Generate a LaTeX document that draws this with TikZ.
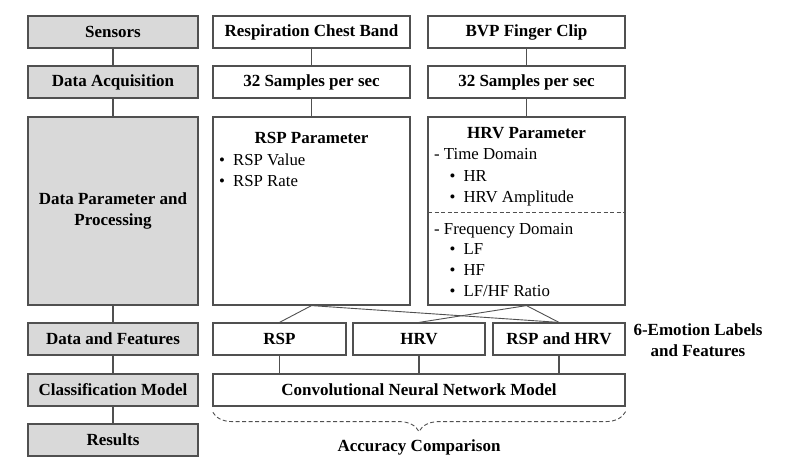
\documentclass[tikz,border=0pt]{standalone}
\usepackage{fontspec}
\setmainfont{Liberation Serif}
\usetikzlibrary{decorations.pathreplacing}
\definecolor{boxgray}{HTML}{D9D9D9}
\definecolor{linegray}{HTML}{505050}
\tikzset{
 stage/.style={draw=linegray, line width=1.2pt, fill=boxgray, minimum width=170pt, minimum height=32pt, inner sep=0pt, font=\bfseries\fontsize{17}{21}\selectfont, align=center},
 pbox/.style={draw=linegray, line width=1.2pt, fill=white, minimum height=32pt, inner sep=0pt, font=\bfseries\fontsize{17}{21}\selectfont, align=center},
 conn/.style={draw=linegray, line width=1.1pt},
 item/.style={anchor=base west, inner sep=0pt, font=\fontsize{16.8}{21}\selectfont},
 ttl/.style={anchor=base, inner sep=0pt, font=\bfseries\fontsize{17}{21}\selectfont},
 plain/.style={inner sep=0pt, font=\bfseries\fontsize{17}{21}\selectfont, align=center},
}
\begin{document}
\begin{tikzpicture}[x=1pt,y=-1pt]
\useasboundingbox (0,0) rectangle (786,473);
% left column
\node[stage] (sens) at (113,32) {Sensors};
\node[stage] (acq) at (113,82) {Data Acquisition};
\node[stage, minimum height=188pt] (proc) at (113,211) {Data Parameter and\\Processing};
\node[stage] (feat) at (113,339) {Data and Features};
\node[stage] (clas) at (113,390) {Classification Model};
\node[stage] (res) at (113,440) {Results};
\draw[conn] (sens) -- (acq);
\draw[conn] (acq) -- (proc);
\draw[conn] (proc) -- (feat);
\draw[conn] (feat) -- (clas);
\draw[conn] (clas) -- (res);
% middle column
\node[pbox, minimum width=197pt] (rband) at (311.5,32) {Respiration Chest Band};
\node[pbox, minimum width=197pt] (rsamp) at (311.5,82) {32 Samples per sec};
\node[pbox, minimum width=197pt, minimum height=188pt] (rpar) at (311.5,211) {};
% right column
\node[pbox, minimum width=197pt] (bclip) at (526.5,32) {BVP Finger Clip};
\node[pbox, minimum width=197pt] (bsamp) at (526.5,82) {32 Samples per sec};
\node[pbox, minimum width=197pt, minimum height=188pt] (hpar) at (526.5,211) {};
\draw[conn] (rband) -- (rsamp);
\draw[conn] (rsamp) -- (rpar);
\draw[conn] (bclip) -- (bsamp);
\draw[conn] (bsamp) -- (hpar);
% RSP parameter text
\node[ttl] (rtitle) at (311.5,144) {RSP Parameter};
\node[item] (rv) at (219,165) {\textbullet\hspace{8pt}RSP Value};
\node[item] (rr) at (219,186) {\textbullet\hspace{8pt}RSP Rate};
% HRV parameter text
\node[ttl] (htitle) at (526.5,139) {HRV Parameter};
\node[item] (td) at (434,160) {- Time Domain};
\node[item] (hr) at (449.5,181) {\textbullet\hspace{8pt}HR};
\node[item] (ha) at (449.5,202) {\textbullet\hspace{8pt}HRV Amplitude};
\coordinate (dl) at (428,212.5);
\coordinate (dr) at (625,212.5);
\draw[conn, line width=0.9pt, dash pattern=on 4pt off 2.5pt] (dl) -- (dr);
\node[item] (fd) at (434,234) {- Frequency Domain};
\node[item] (lf) at (449.5,254.5) {\textbullet\hspace{8pt}LF};
\node[item] (hf) at (449.5,275.5) {\textbullet\hspace{8pt}HF};
\node[item] (lh) at (449.5,296.5) {\textbullet\hspace{8pt}LF/HF Ratio};
% features
\node[pbox, minimum width=133pt] (frsp) at (279.5,339) {RSP};
\node[pbox, minimum width=132pt] (fhrv) at (419,339) {HRV};
\node[pbox, minimum width=132pt] (fboth) at (559,339) {RSP and HRV};
\draw[conn, line width=0.9pt] (rpar.south) -- (frsp.north);
\draw[conn, line width=0.9pt] (rpar.south) -- (fboth.north);
\draw[conn, line width=0.9pt] (hpar.south) -- (fhrv.north);
\draw[conn, line width=0.9pt] (hpar.south) -- (fboth.north);
\node[plain] (emo) at (698,340) {6-Emotion Labels\\and Features};
% model
\node[pbox, minimum width=412pt] (cnn) at (419,390) {Convolutional Neural Network Model};
\draw[conn] (frsp.south) -- (frsp.south |- cnn.north);
\draw[conn] (fhrv.south) -- (fhrv.south |- cnn.north);
\draw[conn] (fboth.south) -- (fboth.south |- cnn.north);
% brace
\draw[conn, line width=0.9pt, dash pattern=on 4pt off 2.5pt, decorate, decoration={brace, amplitude=20pt}] ([yshift=-5pt]cnn.south east) -- ([yshift=-5pt]cnn.south west);
\node[plain] (acc) at (419,447) {Accuracy Comparison};
\end{tikzpicture}
\end{document}
